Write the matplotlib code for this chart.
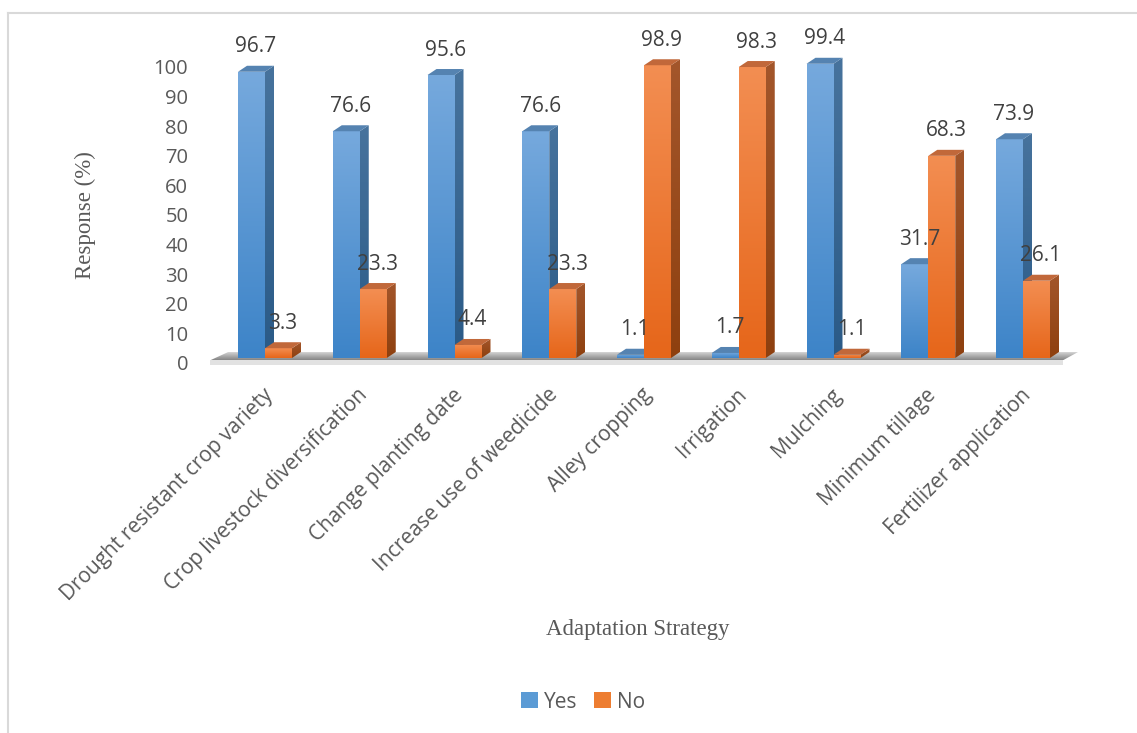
import numpy as np
import matplotlib.pyplot as plt
from matplotlib.colors import LinearSegmentedColormap
from matplotlib.patches import Polygon, Patch
from matplotlib.lines import Line2D
from matplotlib import transforms

strategies = [
    "Drought resistant crop variety",
    "Crop livestock diversification",
    "Change planting date",
    "Increase use of weedicide",
    "Alley cropping",
    "Irrigation",
    "Mulching",
    "Minimum tillage",
    "Fertilizer application",
]
yes_pct = [96.7, 76.6, 95.6, 76.6, 1.1, 1.7, 99.4, 31.7, 73.9]
no_pct = [3.3, 23.3, 4.4, 23.3, 98.9, 98.3, 1.1, 68.3, 26.1]
y_ticks = list(range(0, 101, 10))

W, H, DPI = 1137, 733, 100
GROUP_PX = 94.75     # distance between category groups
UNIT_PX = 2.96       # pixels per percentage point
X0_PX, Y0_PX = 265, 358
XLIM = (-0.7, 8.7)
YLIM = (-5, 110)

TEXT = "#595959"
SANS = ["Open Sans", "DejaVu Sans"]
SERIF = ["Liberation Serif", "DejaVu Serif"]

fig = plt.figure(figsize=(W / DPI, H / DPI), dpi=DPI)
left = X0_PX + XLIM[0] * GROUP_PX
right = X0_PX + XLIM[1] * GROUP_PX
top = Y0_PX - YLIM[1] * UNIT_PX
bottom = Y0_PX - YLIM[0] * UNIT_PX
ax = fig.add_axes([left / W, 1 - bottom / H, (right - left) / W, (bottom - top) / H])

bw = 27 / GROUP_PX          # front face width
dx = 9 / GROUP_PX           # depth offset
dy = 6 / UNIT_PX

grad = np.linspace(0, 1, 128).reshape(-1, 1)

def cmap(c0, c1):
    return LinearSegmentedColormap.from_list("g", [c0, c1])

styles = {
    "yes": dict(front=cmap("#3d84c8", "#76a9dd"), side=cmap("#2a5a87", "#47739d"), top="#5583b1"),
    "no": dict(front=cmap("#e6661a", "#f38e52"), side=cmap("#8e400f", "#a3562b"), top="#c1683a"),
}

def shaded_poly(verts, cm, z):
    poly = Polygon(verts, closed=True, transform=ax.transData, facecolor="none", edgecolor="none")
    xs = [v[0] for v in verts]
    ys = [v[1] for v in verts]
    im = ax.imshow(grad, extent=[min(xs), max(xs), min(ys), max(ys)], cmap=cm,
                   aspect="auto", origin="lower", zorder=z, interpolation="bilinear")
    im.set_clip_path(poly)

def draw_bar(x0, h, st, z):
    x1 = x0 + bw
    shaded_poly([(x0, 0), (x1, 0), (x1, h), (x0, h)], st["front"], z)
    shaded_poly([(x1, 0), (x1 + dx, dy), (x1 + dx, h + dy), (x1, h)], st["side"], z)
    ax.add_patch(Polygon([(x0, h), (x1, h), (x1 + dx, h + dy), (x0 + dx, h + dy)],
                         closed=True, facecolor=st["top"], edgecolor="none", zorder=z + 0.1))

# floor with soft shadow and a light front edge
shaded_poly([(-0.58, -0.8), (8.42, -0.8), (8.58, 2.0), (-0.39, 2.0)],
            cmap("#858585", "#dcdcdc"), 1)
ax.add_patch(Polygon([(-0.58, -2.4), (8.42, -2.4), (8.42, -0.8), (-0.58, -0.8)],
                     closed=True, facecolor="#e2e2e2", edgecolor="none", zorder=1.5))

z = 2
for i, (y, n) in enumerate(zip(yes_pct, no_pct)):
    draw_bar(i - bw, y, styles["yes"], z)
    draw_bar(i, n, styles["no"], z + 1)
    z += 2

# value labels above each bar
for i, (y, n) in enumerate(zip(yes_pct, no_pct)):
    for xc, v in ((i - bw / 2, y), (i + bw / 2, n)):
        ax.annotate(f"{v:.1f}", (xc, v), xytext=(4.5, 25), textcoords="offset pixels",
                    ha="center", va="center", fontsize=15, color="#404040",
                    family=SANS, zorder=50, annotation_clip=False)

# category names, rotated
for i, name in enumerate(strategies):
    ax.text(i + 5 / GROUP_PX, (Y0_PX - 392) / UNIT_PX, name, rotation=45,
            rotation_mode="anchor", ha="right", va="center", fontsize=15,
            color=TEXT, family=SANS, clip_on=False)

ax.set_xlim(*XLIM)
ax.set_ylim(*YLIM)
ax.set_xticks([])
ax.set_yticks(y_ticks)
ax.set_yticklabels([str(t) for t in y_ticks], fontsize=14.5, color=TEXT, family=SANS)
ax.tick_params(axis="y", length=0, pad=7.5)
shift = transforms.ScaledTranslation(0, -5 / DPI, fig.dpi_scale_trans)
for lab in ax.get_yticklabels():
    lab.set_transform(lab.get_transform() + shift)
for s in ax.spines.values():
    s.set_visible(False)
ax.patch.set_visible(False)

fig.text(85 / W, 1 - 215 / H, "Response (%)", rotation=90, ha="center", va="center",
         fontsize=16.5, color=TEXT, family=SERIF)
fig.text(638 / W, 1 - 630 / H, "Adaptation Strategy", ha="center", va="center",
         fontsize=16.5, color=TEXT, family=SERIF)

handles = [Patch(facecolor="#5b9bd5", label="Yes"), Patch(facecolor="#ed7d31", label="No")]
fig.legend(handles=handles, loc="center", bbox_to_anchor=(583 / W, 1 - 702 / H), ncol=2,
           frameon=False, handlelength=0.8, handleheight=0.8, handletextpad=0.3,
           columnspacing=0.8, prop={"family": SANS, "size": 15}, labelcolor=TEXT)

# chart frame
fig.add_artist(Line2D([8 / W, 1], [1 - 12.5 / H] * 2, transform=fig.transFigure,
                      color="#d9d9d9", lw=1.5))
fig.add_artist(Line2D([8 / W] * 2, [0, 1 - 12.5 / H], transform=fig.transFigure,
                      color="#d9d9d9", lw=1.5))

fig.savefig("out.png", dpi=DPI)
